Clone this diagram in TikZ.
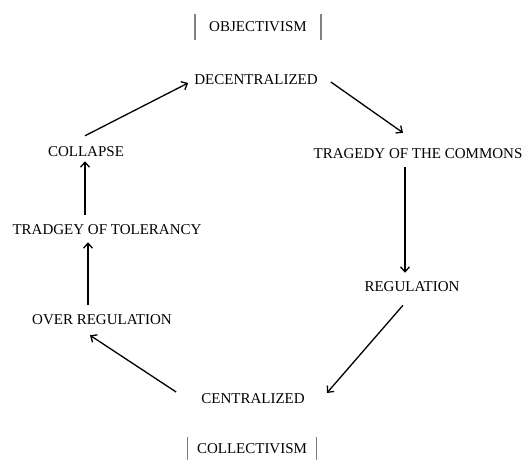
\documentclass[tikz,border=0pt]{standalone}
\usepackage{fontspec}
\setmainfont{Liberation Serif}
\usetikzlibrary{calc, positioning, arrows.meta}

\begin{document}
\begin{tikzpicture}[>={Straight Barb[length=5pt,width=9pt]}, x=1pt, y=-1pt,
    every node/.style={font=\fontsize{15}{17}\selectfont, inner sep=3pt},
    link/.style={->, line width=1.3pt},
    bar/.style={gray, line width=1.1pt}]
  \useasboundingbox (0,0) rectangle (525,460);

  % Poles
  \node[inner xsep=14pt, minimum height=26pt] (obj) at (258,27) {OBJECTIVISM};
  \node[inner xsep=9pt, minimum height=23pt] (coll) at (252,449) {COLLECTIVISM};
  \draw[bar] (obj.north west) -- (obj.south west);
  \draw[bar] (obj.north east) -- (obj.south east);
  \draw[bar] (coll.north west) -- (coll.south west);
  \draw[bar] (coll.north east) -- (coll.south east);

  % Stages of the cycle
  \node (decentral) at (256,80) {DECENTRALIZED};
  \node (tragedy) at (418,154) {TRAGEDY OF THE COMMONS};
  \node (reg) at (412,287) {REGULATION};
  \node (central) at (253,399) {CENTRALIZED};
  \node (overreg) at (102,320) {OVER REGULATION};
  \node (tolerancy) at (107,230) {TRADGEY OF TOLERANCY};
  \node (collapse) at (86,152) {COLLAPSE};

  % Connections
  \draw[link] ($(collapse.north)+(-1,-8)$) -- ($(decentral.west)+(-3,3)$);
  \draw[link] ($(decentral.east)+(10,2)$) -- ($(tragedy.north)+(-15,-13)$);
  \draw[link] ($(tragedy.south)+(-13,5)$) -- ($(reg.north)+(-7,-6)$);
  \draw[link] ($(reg.south)+(-9,10)$) -- ($(central.east)+(19,-6)$);
  \draw[link] ($(central.west)+(-22,-7)$) -- ($(overreg.south)+(-12,7)$);
  \draw[link] ($(overreg.north)+(-14,-7)$) -- ($(tolerancy.south)+(-19,4)$);
  \draw[link] ($(tolerancy.north)+(-22,-7)$) -- ($(collapse.south)+(-1,1)$);
\end{tikzpicture}
\end{document}
